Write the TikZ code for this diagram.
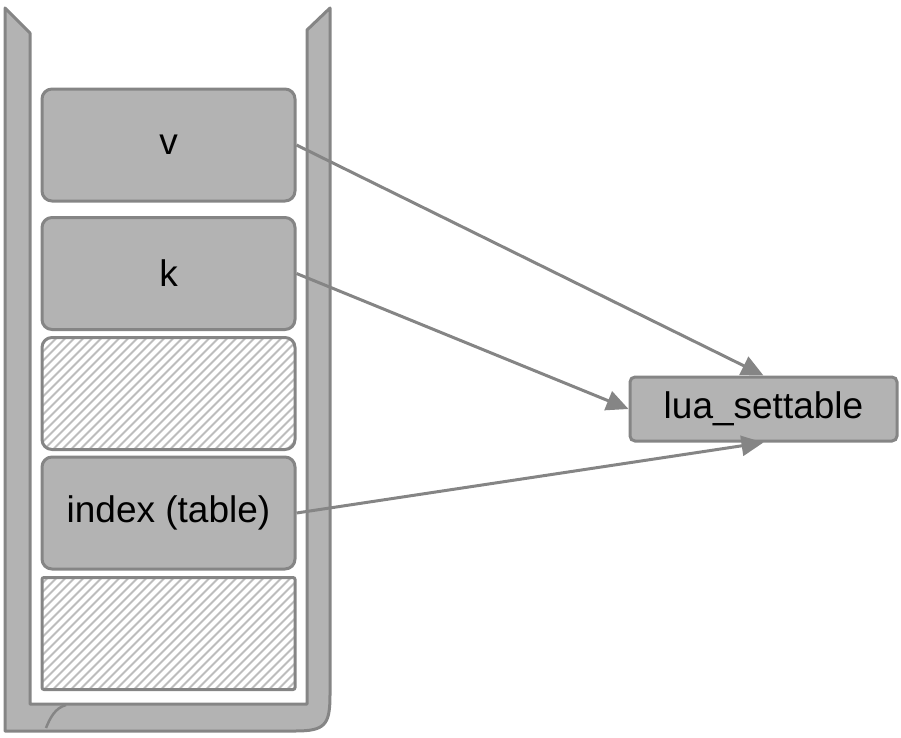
\documentclass[tikz,border=0pt]{standalone}
\usepackage{fontspec}
\setmainfont{Liberation Sans}
\usetikzlibrary{arrows.meta}
\definecolor{strokegray}{HTML}{858585}
\definecolor{fillgray}{HTML}{B3B3B3}
\definecolor{hatchgray}{HTML}{BDBDBD}
\tikzset{
  slot/.style={draw=strokegray, line width=3pt, rectangle, rounded corners=10pt,
    minimum width=253pt, minimum height=112pt, inner sep=0pt,
    font=\fontsize{37}{40}\selectfont, text=black},
  filled/.style={slot, fill=fillgray},
  hatched/.style={slot, fill=white, path picture={
      \foreach \i in {-160,-151,...,300}
        \draw[hatchgray, line width=1.8pt] ([xshift=\i pt]path picture bounding box.south west) -- ++(150pt,150pt);
    }},
  funcbox/.style={draw=strokegray, line width=3pt, rectangle, rounded corners=5pt,
    fill=fillgray, minimum width=267pt, minimum height=64pt, inner sep=0pt,
    font=\fontsize{37}{40}\selectfont, text=black},
  wall/.style={draw=strokegray, line width=3pt, fill=fillgray, line join=round},
  link/.style={draw=strokegray, line width=3pt, -{Triangle[length=22pt,width=20pt]}, color=strokegray}
}
\begin{document}
\begin{tikzpicture}[x=1pt,y=-1pt]
\useasboundingbox (0,0) rectangle (901,737);
% container
\draw[wall] (5,8) -- (30,33) -- (30,704) -- (307,704) -- (307,30) -- (330,8) -- (330,695)
  .. controls (330,725) and (325,731) .. (295,731) -- (5,731) -- cycle;
\draw[strokegray, line width=2.5pt] (66,705) .. controls (55,708) and (50,718) .. (46,728);
% slots
\node[filled] (v) at (168.5,145) {v};
\node[filled] (k) at (168.5,273.5) {k};
\node[hatched] (h1) at (168.5,393.5) {};
\node[filled] (idx) at (168.5,513) {index (table)};
\node[hatched, rounded corners=2pt] (h2) at (168.5,633.5) {};
% function
\node[funcbox] (lua) at (763.5,409) {lua\_settable};
% arrows
\draw[link] (v.east) -- (lua.north);
\draw[link] (k.east) -- (lua.west);
\draw[link] (idx.east) -- (lua.south);
\end{tikzpicture}
\end{document}
